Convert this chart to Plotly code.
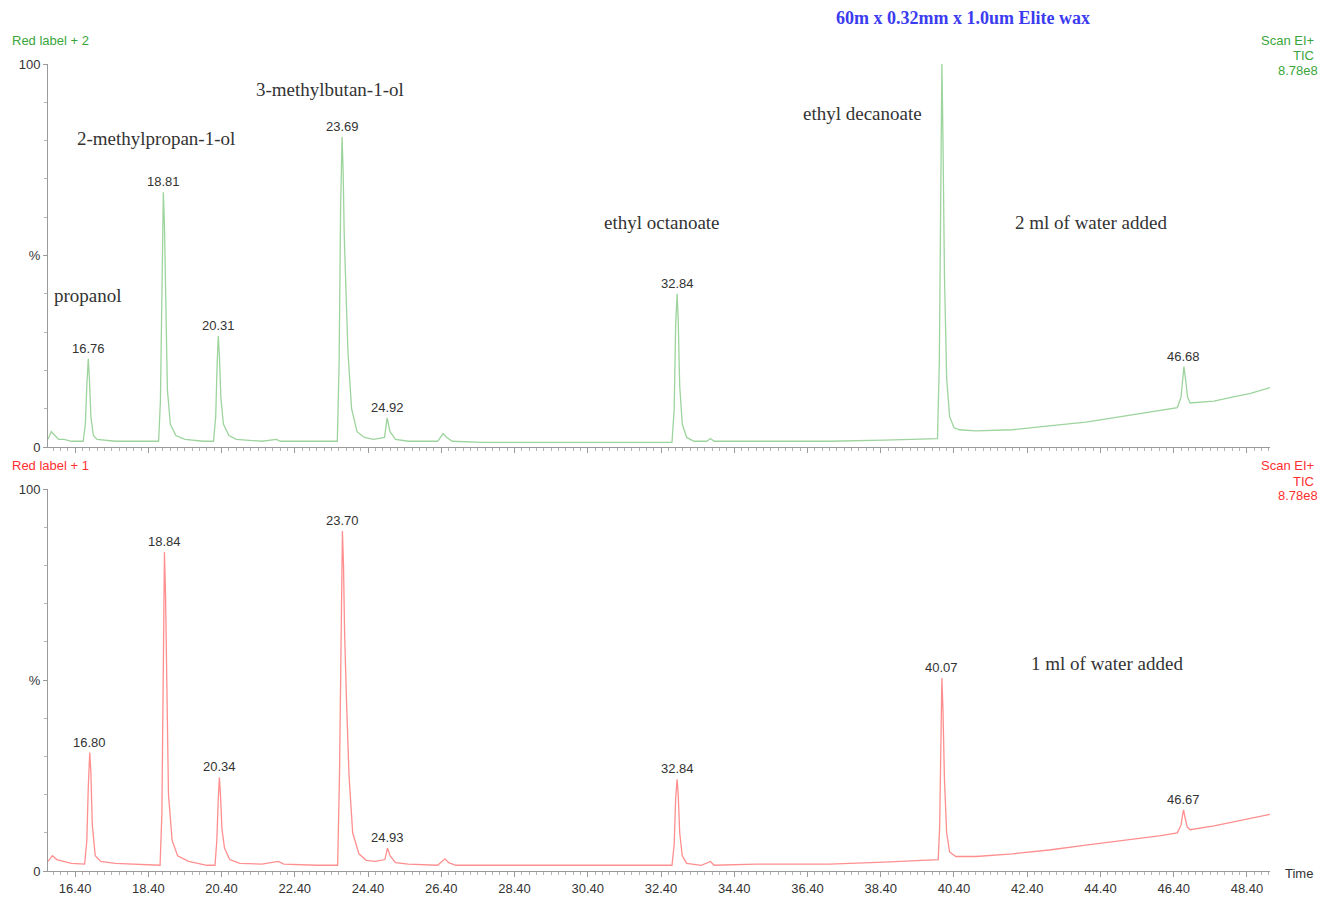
import plotly.graph_objects as go

# ---------------- data ----------------
# Top trace: 2 ml of water added (green), % relative intensity vs time (min)
top_time = [15.66, 15.75, 15.85, 15.95, 16.1, 16.3, 16.62, 16.68, 16.72, 16.76, 16.79, 16.83, 16.90, 17.0, 17.5, 18.0, 18.4,
            18.68, 18.73, 18.77, 18.81, 18.84, 18.87, 18.92, 19.0, 19.15, 19.4, 19.9, 20.18, 20.24, 20.28, 20.31, 20.34,
            20.38, 20.45, 20.6, 20.8, 21.5, 21.9, 22.0, 23.1, 23.56, 23.61, 23.65, 23.69, 23.72, 23.75, 23.79, 23.85,
            23.95, 24.1, 24.3, 24.55, 24.85, 24.92, 25.0, 25.15, 25.5, 26.3, 26.45, 26.55, 26.7, 27.5, 28.5, 30.0,
            31.5, 32.7, 32.76, 32.80, 32.84, 32.87, 32.91, 32.98, 33.1, 33.3, 33.65, 33.75, 33.85, 35.0, 37.0, 38.5,
            39.5, 39.95, 40.0, 40.04, 40.07, 40.10, 40.14, 40.2, 40.28, 40.4, 40.55, 41.0, 42.0, 43.0, 44.0, 45.0,
            46.0, 46.5, 46.6, 46.65, 46.68, 46.72, 46.78, 46.85, 47.5, 48.0, 48.5, 49.03]
top_val = [2.0, 4.0, 3.0, 2.0, 2.0, 1.5, 1.5, 6, 16, 23, 18, 8, 3, 2, 1.5, 1.5, 1.5,
           1.5, 12, 45, 66.5, 58, 38, 15, 6, 3, 2, 1.5, 1.5, 8, 22, 29, 24,
           13, 6, 3, 2, 1.5, 2, 1.5, 1.5, 1.5, 22, 62, 81, 72, 55, 44, 25,
           10, 4, 2.5, 2, 2.5, 7.6, 4, 2, 1.5, 1.5, 3.5, 2.5, 1.5, 1.2, 1.2, 1.2,
           1.2, 1.2, 10, 32, 40, 33, 16, 6, 2.5, 1.5, 1.5, 2.2, 1.5, 1.5, 1.5, 1.8,
           2.0, 2.2, 22, 75, 100, 80, 45, 18, 8, 5, 4.5, 4.2, 4.5, 5.5, 6.5, 8.0,
           9.5, 10.3, 13, 18, 21, 18, 13, 11.5, 12, 13, 14, 15.5]

# Bottom trace: 1 ml of water added (red)
bot_time = [15.66, 15.78, 15.9, 16.1, 16.3, 16.66, 16.72, 16.76, 16.80, 16.83, 16.87, 16.95, 17.1, 17.5, 18.0, 18.4,
            18.72, 18.77, 18.81, 18.84, 18.87, 18.90, 18.95, 19.05, 19.2, 19.5, 20.0, 20.22, 20.27, 20.31, 20.34,
            20.37, 20.41, 20.48, 20.62, 20.9, 21.5, 21.95, 22.1, 23.0, 23.57, 23.62, 23.66, 23.70, 23.73, 23.76,
            23.81, 23.88, 23.98, 24.15, 24.35, 24.6, 24.86, 24.93, 25.0, 25.15, 25.5, 26.3, 26.5, 26.6, 26.8,
            28.0, 30.0, 32.7, 32.76, 32.80, 32.84, 32.87, 32.91, 32.98, 33.1, 33.5, 33.75, 33.85, 35.0, 37.0,
            38.5, 39.5, 39.97, 40.01, 40.04, 40.07, 40.10, 40.14, 40.2, 40.28, 40.45, 41.0, 42.0, 43.0, 44.0,
            45.0, 46.0, 46.5, 46.6, 46.64, 46.67, 46.71, 46.77, 46.85, 47.5, 48.0, 48.5, 49.03]
bot_val = [2.5, 4.0, 3, 2.5, 2, 1.8, 8, 22, 31, 26, 12, 4, 2.5, 2, 1.8, 1.5,
           1.5, 15, 55, 83.5, 72, 48, 20, 8, 4, 2.5, 1.5, 1.5, 8, 19, 24.5,
           20, 11, 6, 3, 2, 1.8, 2.5, 1.8, 1.5, 1.5, 25, 68, 89, 80, 62,
           45, 25, 10, 4.5, 2.8, 2.5, 3, 6, 4, 2.2, 1.8, 1.5, 3.2, 2.2, 1.5,
           1.5, 1.5, 1.5, 7, 19, 24, 20, 10, 4, 2, 1.5, 2.5, 1.5, 1.8, 1.8,
           2.3, 2.8, 3, 12, 38, 50.5, 42, 24, 10, 5, 3.8, 3.8, 4.5, 5.5, 6.8,
           8.0, 9.2, 10, 12, 14.5, 16, 14, 11.5, 10.8, 11.8, 12.8, 13.8, 14.8]

# Labelled peaks
top_peak_time = [16.76, 18.81, 20.31, 23.69, 24.92, 32.84, 46.68]
top_peak_val = [23, 66.5, 29, 81, 7.6, 40, 21]
top_peak_label = ["16.76", "18.81", "20.31", "23.69", "24.92", "32.84", "46.68"]

bot_peak_time = [16.80, 18.84, 20.34, 23.70, 24.93, 32.84, 40.07, 46.67]
bot_peak_val = [31, 83.5, 24.5, 89, 6, 24, 50.5, 16]
bot_peak_label = ["16.80", "18.84", "20.34", "23.70", "24.93", "32.84", "40.07", "46.67"]

x_tick_vals = [16.4, 18.4, 20.4, 22.4, 24.4, 26.4, 28.4, 30.4, 32.4, 34.4, 36.4, 38.4, 40.4, 42.4, 44.4, 46.4, 48.4]
x_tick_text = ["16.40", "18.40", "20.40", "22.40", "24.40", "26.40", "28.40", "30.40", "32.40", "34.40",
               "36.40", "38.40", "40.40", "42.40", "44.40", "46.40", "48.40"]
y_tick_vals = [0, 50, 100]
y_tick_text = ["0", "%", "100"]

compound_names = ["propanol", "2-methylpropan-1-ol", "3-methylbutan-1-ol", "ethyl octanoate", "ethyl decanoate"]

# ---------------- layout geometry ----------------
OFF = 8                      # page body margin of the html page
W, H = 1329 - OFF, 902 - OFF
ML, MR, MT, MB = 48 - OFF, 59, 64 - OFF, 31
PW = W - ML - MR
PH = H - MT - MB

def px2paper_x(px):          # screen pixel -> paper fraction
    return (px - OFF - ML) / PW

def px2paper_y(py):
    return (H + OFF - MB - py) / PH

top_dom = [px2paper_y(447), 1.0]
bot_dom = [0.0, px2paper_y(489)]

GREEN_LINE = "#9dd49d"
RED_LINE = "#ff8f8f"
GREEN_TXT = "#3aa53a"
RED_TXT = "#ff3030"
TXT = "#333333"
AX = "#9a9a9a"

fig = go.Figure()
fig.add_trace(go.Scatter(x=top_time, y=top_val, mode="lines", line=dict(color=GREEN_LINE, width=1.3),
                         xaxis="x", yaxis="y", showlegend=False, hoverinfo="skip"))
fig.add_trace(go.Scatter(x=bot_time, y=bot_val, mode="lines", line=dict(color=RED_LINE, width=1.3),
                         xaxis="x2", yaxis="y2", showlegend=False, hoverinfo="skip"))

xrange = [15.66, 49.03]
common_x = dict(range=xrange, showgrid=False, zeroline=False, showline=True, linecolor=AX, linewidth=1,
                ticks="outside", ticklen=5, tickcolor=AX, tickvals=x_tick_vals, ticktext=x_tick_text,
                minor=dict(dtick=0.2, tick0=16.4, ticks="outside", ticklen=3, tickcolor="#b5b5b5"),
                tickfont=dict(family="Liberation Sans, Arial", size=13, color=TXT))
common_y = dict(range=[0, 100], showgrid=False, zeroline=False, showline=True, linecolor=AX, linewidth=1,
                ticks="outside", ticklen=4, tickcolor=AX, tickvals=y_tick_vals, ticktext=y_tick_text,
                minor=dict(dtick=10, ticks="outside", ticklen=3, tickcolor="#b5b5b5"),
                tickfont=dict(family="Liberation Sans, Arial", size=13, color=TXT))

fig.update_layout(
    width=W, height=H,
    margin=dict(l=ML, r=MR, t=MT, b=MB, autoexpand=False),
    paper_bgcolor="white", plot_bgcolor="white",
    xaxis=dict(**common_x, domain=[0, 1], anchor="y", showticklabels=False),
    yaxis=dict(**common_y, domain=top_dom, anchor="x"),
    xaxis2=dict(**common_x, domain=[0, 1], anchor="y2", showticklabels=True),
    yaxis2=dict(**common_y, domain=bot_dom, anchor="x2"),
)

ann = []
# peak labels
for t, v, s in zip(top_peak_time, top_peak_val, top_peak_label):
    ann.append(dict(x=t, y=v, xref="x", yref="y", text=s, showarrow=False, yanchor="bottom", yshift=1,
                    font=dict(family="Liberation Sans, Arial", size=13, color=TXT)))
for t, v, s in zip(bot_peak_time, bot_peak_val, bot_peak_label):
    ann.append(dict(x=t, y=v, xref="x2", yref="y2", text=s, showarrow=False, yanchor="bottom", yshift=1,
                    font=dict(family="Liberation Sans, Arial", size=13, color=TXT)))

serif = dict(family="Liberation Serif, Times New Roman", size=19, color=TXT)
def ptxt(text, px, py, xanchor="center", font=serif):
    ann.append(dict(x=px2paper_x(px), y=px2paper_y(py), xref="paper", yref="paper", text=text,
                    showarrow=False, xanchor=xanchor, yanchor="middle", font=font))

ptxt(compound_names[0], 52, 295, xanchor="left")
ptxt(compound_names[1], 156, 138)
ptxt(compound_names[2], 330, 89)
ptxt(compound_names[3], 662, 223)
ptxt(compound_names[4], 862, 113)
ptxt("2 ml of water added", 1091, 223)
ptxt("1 ml of water added", 1107, 663)

ptxt("<b>60m x 0.32mm x 1.0um Elite wax</b>", 963, 18,
     font=dict(family="Liberation Serif, Times New Roman", size=18, color="#3b3bf0"))

small_g = dict(family="Liberation Sans, Arial", size=13, color=GREEN_TXT)
small_r = dict(family="Liberation Sans, Arial", size=13, color=RED_TXT)
ptxt("Red label + 2", 10, 41, xanchor="left", font=small_g)
ptxt("Scan EI+", 1316, 41, xanchor="right", font=small_g)
ptxt("TIC", 1316, 56, xanchor="right", font=small_g)
ptxt("8.78e8", 1320, 71, xanchor="right", font=small_g)
ptxt("Red label + 1", 10, 465, xanchor="left", font=small_r)
ptxt("Scan EI+", 1316, 465, xanchor="right", font=small_r)
ptxt("TIC", 1316, 481, xanchor="right", font=small_r)
ptxt("8.78e8", 1320, 496, xanchor="right", font=small_r)
ptxt("Time", 1283, 874, xanchor="left", font=dict(family="Liberation Sans, Arial", size=13, color=TXT))

fig.update_layout(annotations=ann)
fig.write_html("out.html")
